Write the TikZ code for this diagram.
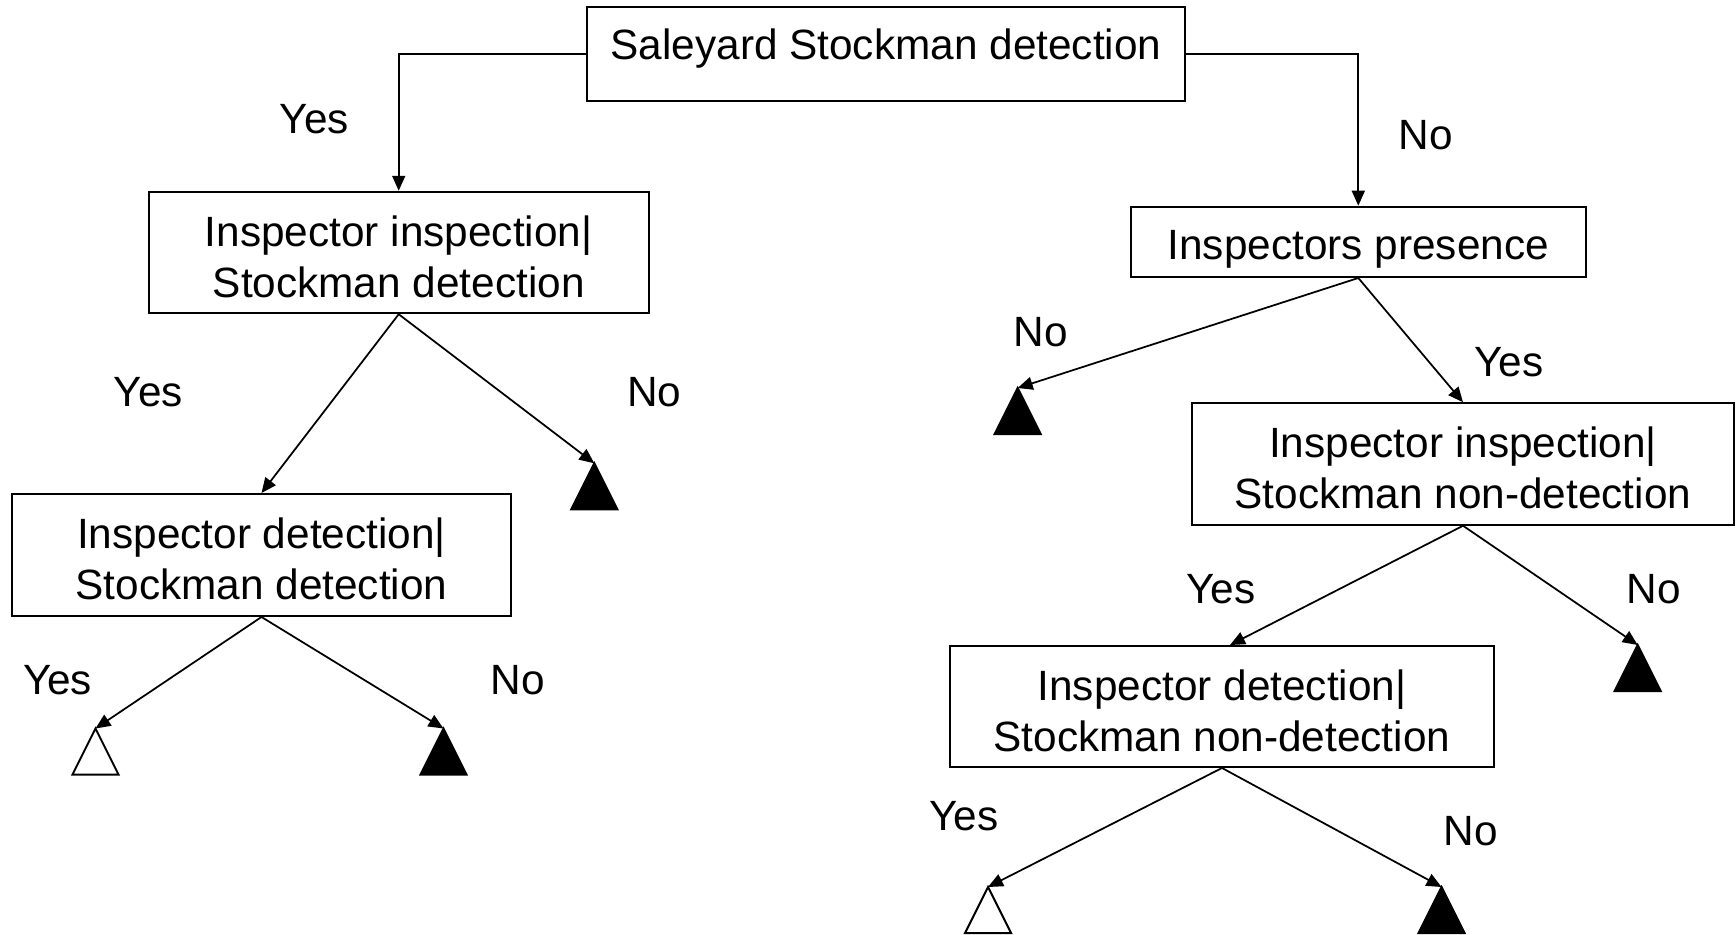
\documentclass[tikz,border=0pt]{standalone}
\usepackage{fontspec}
\setmainfont{Liberation Sans}
\usetikzlibrary{arrows.meta,calc}

\newcommand{\topstrut}{\rule{0pt}{22pt}}

\tikzset{
  box/.style={draw, line width=0.04cm, rectangle, inner xsep=0pt, align=center,
    font=\fontsize{24.1pt}{29pt}\selectfont},
  lbl/.style={font=\fontsize{24.1pt}{29pt}\selectfont, inner sep=0pt},
  conn/.style={line width=0.035cm, -{Triangle[length=0.3cm,width=0.26cm]}},
  leafwin/.pic={\draw[line width=0.04cm, fill=white] (0,0) -- (-23,46) -- (23,46) -- cycle;},
  leafloss/.pic={\draw[line width=0.04cm, fill=black] (0,0) -- (-23,46) -- (23,46) -- cycle;}
}

\begin{document}
\begin{tikzpicture}[x=0.02cm, y=-0.02cm]
\useasboundingbox (0,0) rectangle (1736,935);

% decision boxes
\node[box, anchor=base, minimum width=11.96cm, inner ysep=0pt,
      text height=1.054cm, text depth=0.82cm] (root) at (886,60) {Saleyard Stockman detection};
\node[box, minimum width=10cm, minimum height=2.43cm] (sdInsp) at (398.7,252.5)
  {\topstrut Inspector inspection|\\Stockman detection};
\node[box, minimum width=10cm, minimum height=2.44cm] (sdDet) at (261.5,555)
  {\topstrut Inspector detection|\\Stockman detection};
\node[box, anchor=base, minimum width=9.09cm, inner ysep=0pt,
      text height=1.052cm, text depth=0.354cm] (pres) at (1358.3,259.3) {Inspectors presence};
\node[box, minimum width=10.84cm, minimum height=2.43cm] (ndInsp) at (1463,464)
  {\topstrut Inspector inspection|\\Stockman non-detection};
\node[box, minimum width=10.89cm, minimum height=2.42cm] (ndDet) at (1222,706.5)
  {\topstrut Inspector detection|\\Stockman non-detection};

% outcome apexes
\coordinate (o1) at (594.3,463.3);
\coordinate (o2) at (95.5,728.5);
\coordinate (o3) at (443.5,728.5);
\coordinate (o4) at (1017.7,388);
\coordinate (o5) at (1637.7,645);
\coordinate (o6) at (988,887);
\coordinate (o7) at (1441.5,887);

\pic at (o1) {leafloss};
\pic at (o2) {leafwin};
\pic at (o3) {leafloss};
\pic at (o4) {leafloss};
\pic at (o5) {leafloss};
\pic at (o6) {leafwin};
\pic at (o7) {leafloss};

% connectors
\draw[conn] (root.west) -| (sdInsp.north);
\draw[conn] (root.east) -| (pres.north);
\draw[conn] (sdInsp.south) -- (sdDet.north);
\draw[conn] (sdInsp.south) -- (o1);
\draw[conn] (sdDet.south) -- (o2);
\draw[conn] (sdDet.south) -- (o3);
\draw[conn] (pres.south) -- (o4);
\draw[conn] (pres.south) -- (ndInsp.north);
\draw[conn] (ndInsp.south) -- ($(ndDet.north)+(8,0)$);
\draw[conn] (ndInsp.south) -- (o5);
\draw[conn] (ndDet.south) -- (o6);
\draw[conn] (ndDet.south) -- (o7);

% branch labels
\node[lbl] (l1) at (314.5,119.6) {Yes};
\node[lbl] (l2) at (1426,135) {No};
\node[lbl] (l3) at (148.4,392) {Yes};
\node[lbl] (l4) at (654.3,392) {No};
\node[lbl] (l5) at (57.6,680) {Yes};
\node[lbl] (l6) at (518,680) {No};
\node[lbl] (l7) at (1040.7,332) {No};
\node[lbl] (l8) at (1509,362) {Yes};
\node[lbl] (l9) at (1221,589) {Yes};
\node[lbl] (l10) at (1654,589) {No};
\node[lbl] (l11) at (964,816) {Yes};
\node[lbl] (l12) at (1471,831.5) {No};
\end{tikzpicture}
\end{document}
